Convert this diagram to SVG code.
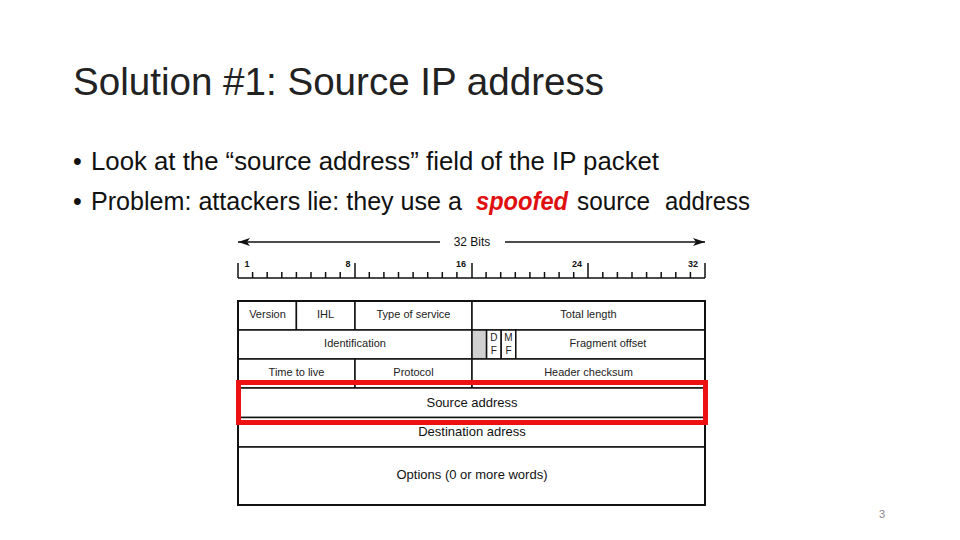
<svg xmlns="http://www.w3.org/2000/svg" width="960" height="540" viewBox="0 0 960 540">
<defs>
<style>
.title{font-family:"Liberation Sans",Arial,sans-serif;font-size:39px;fill:#222}
.bul{font-family:"Liberation Sans",Arial,sans-serif;font-size:25px;fill:#111}
.sp{font-family:"Liberation Sans",Arial,sans-serif;font-size:25px;fill:#e01010;font-weight:bold;font-style:italic}
.f{font-family:"Liberation Sans",Arial,sans-serif;font-size:11px;fill:#222;text-anchor:middle}
.fl{font-family:"Liberation Sans",Arial,sans-serif;font-size:13px;fill:#111;text-anchor:middle}
.num{font-family:"Liberation Sans",Arial,sans-serif;font-size:9px;font-weight:bold;fill:#111;text-anchor:middle}
.ln{stroke:#111;stroke-width:1.5;fill:none}
.box{fill:#fff;stroke:#111;stroke-width:1.5}
</style>
<marker id="ah" viewBox="0 0 12 8" refX="12" refY="4" markerWidth="12" markerHeight="8" markerUnits="userSpaceOnUse" orient="auto">
<path d="M0,0 L12,4 L0,8 L3,4 Z" fill="#111"/>
</marker>
</defs>
<rect width="960" height="540" fill="#fff"/>
<text class="title" x="73" y="95" textLength="531" lengthAdjust="spacingAndGlyphs">Solution #1: Source IP address</text>
<text class="bul" x="73" y="170">•</text>
<text class="bul" x="91" y="170" textLength="568" lengthAdjust="spacingAndGlyphs">Look at the “source address” field of the IP packet</text>
<text class="bul" x="73" y="210">•</text>
<text class="bul" x="91" y="210" textLength="371" lengthAdjust="spacingAndGlyphs">Problem: attackers lie: they use a</text>
<text class="sp" x="476" y="210" textLength="92" lengthAdjust="spacingAndGlyphs">spoofed</text>
<text class="bul" x="577" y="210" textLength="73" lengthAdjust="spacingAndGlyphs">source</text>
<text class="bul" x="665" y="210" textLength="85" lengthAdjust="spacingAndGlyphs">address</text>

<g id="connectors">
<line class="ln" x1="440" y1="242" x2="238" y2="242" stroke-width="2" marker-end="url(#ah)"/>
<line class="ln" x1="505" y1="242" x2="705" y2="242" stroke-width="2" marker-end="url(#ah)"/>
</g>
<g id="ruler">
<text class="fl" x="472" y="246" style="font-size:12px">32 Bits</text>
<path class="ln" d="M238,278 H705 M238,263 V278 M355,263 V278 M472,263 V278 M588,263 V278 M705,263 V278"/>
<path class="ln" stroke-width="1.2" d="M252.6,272V278M267.2,272V278M281.8,272V278M296.4,272V278M311,272V278M325.6,272V278M340.2,272V278M369.3,272V278M383.9,272V278M398.5,272V278M413.1,272V278M427.7,272V278M442.3,272V278M456.9,272V278M486.1,272V278M500.7,272V278M515.3,272V278M529.9,272V278M544.5,272V278M559.1,272V278M573.7,272V278M602.8,272V278M617.4,272V278M632,272V278M646.6,272V278M661.2,272V278M675.8,272V278M690.4,272V278"/>
<text class="num" x="247" y="267">1</text>
<text class="num" x="348" y="267">8</text>
<text class="num" x="461" y="267">16</text>
<text class="num" x="577" y="267">24</text>
<text class="num" x="693" y="267">32</text>
</g>

<g id="version"><rect class="box" x="238" y="301" width="58.4" height="29"/><text class="f" x="267.5" y="318">Version</text></g>
<g id="ihl"><rect class="box" x="296.4" y="301" width="58.6" height="29"/><text class="f" x="325.5" y="318">IHL</text></g>
<g id="tos"><rect class="box" x="355" y="301" width="117" height="29"/><text class="f" x="413.5" y="318">Type of service</text></g>
<g id="total-length"><rect class="box" x="472" y="301" width="233" height="29"/><text class="f" x="588.5" y="318">Total length</text></g>

<g id="identification"><rect class="box" x="238" y="330" width="234" height="29"/><text class="f" x="355" y="347">Identification</text></g>
<g id="reserved"><rect x="472" y="330" width="14.6" height="29" fill="#d0d0d0" stroke="#111" stroke-width="1.5"/></g>
<g id="df"><rect class="box" x="486.6" y="330" width="14.6" height="29"/><text class="f" x="493.9" y="341" style="font-size:10px">D</text><text class="f" x="493.9" y="354" style="font-size:10px">F</text></g>
<g id="mf"><rect class="box" x="501.2" y="330" width="14.6" height="29"/><text class="f" x="508.5" y="341" style="font-size:10px">M</text><text class="f" x="508.5" y="354" style="font-size:10px">F</text></g>
<g id="fragment-offset"><rect class="box" x="515.8" y="330" width="189.2" height="29"/><text class="f" x="608" y="347">Fragment offset</text></g>

<g id="ttl"><rect class="box" x="238" y="359" width="117" height="29"/><text class="f" x="296.5" y="376">Time to live</text></g>
<g id="protocol"><rect class="box" x="355" y="359" width="117" height="29"/><text class="f" x="413.5" y="376">Protocol</text></g>
<g id="checksum"><rect class="box" x="472" y="359" width="233" height="29"/><text class="f" x="588.5" y="376">Header checksum</text></g>

<g id="source"><rect class="box" x="238" y="388" width="467" height="29.5"/><text class="fl" x="472" y="406.5">Source address</text></g>
<g id="destination"><rect class="box" x="238" y="417.5" width="467" height="29.5"/><text class="fl" x="472" y="436">Destination adress</text></g>
<g id="options"><rect class="box" x="238" y="447" width="467" height="58"/><text class="fl" x="472" y="479">Options (0 or more words)</text></g>
<rect x="238" y="301" width="467" height="204" fill="none" stroke="#111" stroke-width="2"/>

<g id="highlight"><rect x="238.5" y="382.5" width="467" height="40" fill="none" stroke="#ee1111" stroke-width="5"/></g>

<text x="882" y="518" style="font-family:'Liberation Sans',Arial,sans-serif;font-size:11px;fill:#888" text-anchor="middle">3</text>
</svg>
